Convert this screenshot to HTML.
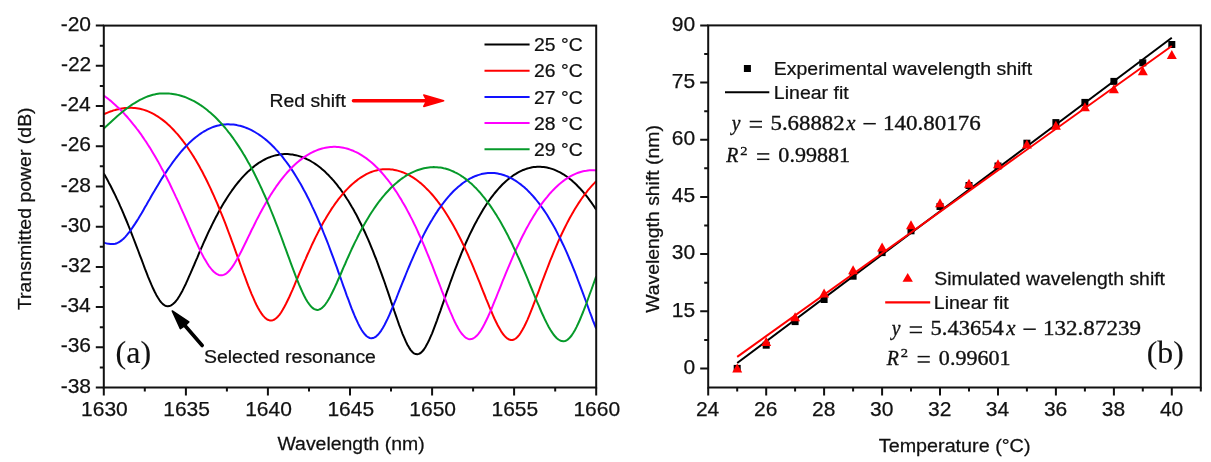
<!DOCTYPE html><html><head><meta charset="utf-8"><title>figure</title><style>html,body{margin:0;padding:0;background:#fff;overflow:hidden}svg{display:block;filter:blur(0.4px)}</style></head><body>
<svg width="1211" height="462" viewBox="0 0 1211 462">
<rect width="1211" height="462" fill="#fff"/>
<defs><clipPath id="cl"><rect x="103.8" y="25.6" width="492.4" height="361.9"/></clipPath></defs>
<g clip-path="url(#cl)" fill="none" stroke-width="2" stroke-linejoin="round">
<path d="M103.8,173.4 105.4,176.3 107.1,179.3 108.7,182.4 110.4,185.5 112.0,188.7 113.6,192.0 115.3,195.4 116.9,198.9 118.6,202.4 120.2,206.1 121.9,209.8 123.5,213.6 125.1,217.5 126.8,221.5 128.4,225.5 130.1,229.6 131.7,233.8 133.3,238.0 135.0,242.3 136.6,246.6 138.3,251.0 139.9,255.3 141.6,259.7 143.2,264.0 144.8,268.4 146.5,272.6 148.1,276.8 149.8,280.8 151.4,284.7 153.0,288.3 154.7,291.8 156.3,294.9 158.0,297.8 159.6,300.3 161.2,302.4 162.9,304.1 164.5,305.3 166.2,306.0 167.8,306.3 169.5,306.1 171.1,305.4 172.7,304.3 174.4,302.8 176.0,301.0 177.7,298.8 179.3,296.2 180.9,293.4 182.6,290.4 184.2,287.1 185.9,283.7 187.5,280.1 189.1,276.4 190.8,272.7 192.4,268.8 194.1,265.0 195.7,261.1 197.4,257.3 199.0,253.4 200.6,249.6 202.3,245.9 203.9,242.2 205.6,238.5 207.2,234.9 208.8,231.4 210.5,228.0 212.1,224.6 213.8,221.3 215.4,218.1 217.1,215.0 218.7,211.9 220.3,209.0 222.0,206.1 223.6,203.3 225.3,200.6 226.9,198.0 228.5,195.5 230.2,193.0 231.8,190.7 233.5,188.4 235.1,186.2 236.7,184.1 238.4,182.0 240.0,180.1 241.7,178.2 243.3,176.4 245.0,174.6 246.6,173.0 248.2,171.4 249.9,169.9 251.5,168.4 253.2,167.1 254.8,165.8 256.4,164.6 258.1,163.4 259.7,162.3 261.4,161.3 263.0,160.4 264.7,159.5 266.3,158.7 267.9,157.9 269.6,157.3 271.2,156.6 272.9,156.1 274.5,155.6 276.1,155.2 277.8,154.9 279.4,154.6 281.1,154.3 282.7,154.2 284.3,154.1 286.0,154.1 287.6,154.1 289.3,154.2 290.9,154.4 292.6,154.6 294.2,154.9 295.8,155.2 297.5,155.6 299.1,156.1 300.8,156.6 302.4,157.2 304.0,157.8 305.7,158.5 307.3,159.3 309.0,160.1 310.6,161.0 312.2,162.0 313.9,163.0 315.5,164.1 317.2,165.3 318.8,166.5 320.5,167.8 322.1,169.2 323.7,170.6 325.4,172.1 327.0,173.7 328.7,175.3 330.3,177.1 331.9,178.8 333.6,180.7 335.2,182.6 336.9,184.7 338.5,186.8 340.2,188.9 341.8,191.2 343.4,193.5 345.1,195.9 346.7,198.5 348.4,201.0 350.0,203.7 351.6,206.5 353.3,209.3 354.9,212.3 356.6,215.3 358.2,218.5 359.8,221.7 361.5,225.0 363.1,228.5 364.8,232.0 366.4,235.6 368.1,239.3 369.7,243.2 371.3,247.1 373.0,251.1 374.6,255.3 376.3,259.5 377.9,263.8 379.5,268.3 381.2,272.8 382.8,277.4 384.5,282.0 386.1,286.8 387.8,291.6 389.4,296.4 391.0,301.3 392.7,306.1 394.3,311.0 396.0,315.8 397.6,320.5 399.2,325.1 400.9,329.5 402.5,333.8 404.2,337.7 405.8,341.4 407.4,344.7 409.1,347.6 410.7,350.1 412.4,352.0 414.0,353.4 415.7,354.1 417.3,354.3 418.9,353.9 420.6,353.0 422.2,351.5 423.9,349.5 425.5,347.0 427.1,344.1 428.8,340.8 430.4,337.2 432.1,333.3 433.7,329.1 435.3,324.8 437.0,320.3 438.6,315.7 440.3,311.1 441.9,306.4 443.6,301.7 445.2,296.9 446.8,292.2 448.5,287.6 450.1,283.0 451.8,278.4 453.4,274.0 455.0,269.6 456.7,265.3 458.3,261.1 460.0,257.0 461.6,252.9 463.3,249.0 464.9,245.2 466.5,241.5 468.2,237.9 469.8,234.4 471.5,231.0 473.1,227.7 474.7,224.5 476.4,221.4 478.0,218.4 479.7,215.5 481.3,212.7 482.9,209.9 484.6,207.3 486.2,204.8 487.9,202.3 489.5,200.0 491.2,197.7 492.8,195.6 494.4,193.5 496.1,191.5 497.7,189.6 499.4,187.7 501.0,186.0 502.6,184.3 504.3,182.7 505.9,181.2 507.6,179.8 509.2,178.4 510.9,177.2 512.5,176.0 514.1,174.8 515.8,173.8 517.4,172.8 519.1,171.9 520.7,171.1 522.3,170.3 524.0,169.7 525.6,169.1 527.3,168.5 528.9,168.1 530.5,167.7 532.2,167.3 533.8,167.1 535.5,166.9 537.1,166.8 538.8,166.7 540.4,166.8 542.0,166.9 543.7,167.0 545.3,167.3 547.0,167.6 548.6,167.9 550.2,168.4 551.9,168.9 553.5,169.4 555.2,170.1 556.8,170.8 558.4,171.6 560.1,172.4 561.7,173.3 563.4,174.3 565.0,175.4 566.7,176.5 568.3,177.7 569.9,179.0 571.6,180.3 573.2,181.8 574.9,183.3 576.5,184.8 578.1,186.5 579.8,188.2 581.4,190.0 583.1,191.9 584.7,193.8 586.4,195.8 588.0,197.9 589.6,200.1 591.3,202.4 592.9,204.7 594.6,207.1 596.2,209.6" stroke="#000000"/>
<path d="M103.8,114.3 105.4,113.5 107.1,112.8 108.7,112.1 110.4,111.5 112.0,111.0 113.6,110.4 115.3,110.0 116.9,109.5 118.6,109.2 120.2,108.8 121.9,108.5 123.5,108.3 125.1,108.1 126.8,108.0 128.4,107.9 130.1,107.8 131.7,107.8 133.3,107.9 135.0,108.0 136.6,108.2 138.3,108.5 139.9,108.8 141.6,109.2 143.2,109.6 144.8,110.1 146.5,110.7 148.1,111.4 149.8,112.1 151.4,112.8 153.0,113.7 154.7,114.6 156.3,115.6 158.0,116.6 159.6,117.7 161.2,118.9 162.9,120.1 164.5,121.4 166.2,122.8 167.8,124.3 169.5,125.8 171.1,127.4 172.7,129.0 174.4,130.8 176.0,132.6 177.7,134.4 179.3,136.4 180.9,138.4 182.6,140.5 184.2,142.7 185.9,144.9 187.5,147.3 189.1,149.7 190.8,152.2 192.4,154.7 194.1,157.4 195.7,160.1 197.4,162.9 199.0,165.8 200.6,168.8 202.3,171.8 203.9,175.0 205.6,178.2 207.2,181.5 208.8,184.9 210.5,188.4 212.1,192.0 213.8,195.6 215.4,199.3 217.1,203.1 218.7,207.0 220.3,211.0 222.0,215.1 223.6,219.2 225.3,223.4 226.9,227.6 228.5,232.0 230.2,236.4 231.8,240.8 233.5,245.3 235.1,249.8 236.7,254.3 238.4,258.9 240.0,263.4 241.7,268.0 243.3,272.5 245.0,276.9 246.6,281.3 248.2,285.6 249.9,289.8 251.5,293.8 253.2,297.7 254.8,301.4 256.4,304.8 258.1,308.0 259.7,310.8 261.4,313.4 263.0,315.6 264.7,317.4 266.3,318.8 267.9,319.8 269.6,320.4 271.2,320.5 272.9,320.2 274.5,319.5 276.1,318.3 277.8,316.7 279.4,314.8 281.1,312.5 282.7,309.8 284.3,306.9 286.0,303.8 287.6,300.5 289.3,297.0 290.9,293.3 292.6,289.6 294.2,285.8 295.8,281.9 297.5,278.0 299.1,274.1 300.8,270.2 302.4,266.4 304.0,262.5 305.7,258.8 307.3,255.0 309.0,251.4 310.6,247.8 312.2,244.2 313.9,240.8 315.5,237.4 317.2,234.1 318.8,230.9 320.5,227.8 322.1,224.8 323.7,221.8 325.4,219.0 327.0,216.2 328.7,213.5 330.3,210.9 331.9,208.4 333.6,206.0 335.2,203.6 336.9,201.4 338.5,199.2 340.2,197.1 341.8,195.1 343.4,193.2 345.1,191.3 346.7,189.6 348.4,187.9 350.0,186.3 351.6,184.7 353.3,183.3 354.9,181.9 356.6,180.6 358.2,179.3 359.8,178.2 361.5,177.1 363.1,176.1 364.8,175.1 366.4,174.2 368.1,173.4 369.7,172.7 371.3,172.0 373.0,171.4 374.6,170.9 376.3,170.5 377.9,170.1 379.5,169.8 381.2,169.5 382.8,169.3 384.5,169.2 386.1,169.2 387.8,169.2 389.4,169.3 391.0,169.4 392.7,169.6 394.3,169.9 396.0,170.2 397.6,170.6 399.2,171.1 400.9,171.6 402.5,172.2 404.2,172.9 405.8,173.6 407.4,174.4 409.1,175.2 410.7,176.2 412.4,177.2 414.0,178.2 415.7,179.3 417.3,180.5 418.9,181.8 420.6,183.1 422.2,184.5 423.9,186.0 425.5,187.6 427.1,189.2 428.8,190.9 430.4,192.6 432.1,194.5 433.7,196.4 435.3,198.4 437.0,200.5 438.6,202.6 440.3,204.8 441.9,207.1 443.6,209.5 445.2,212.0 446.8,214.5 448.5,217.2 450.1,219.9 451.8,222.7 453.4,225.6 455.0,228.5 456.7,231.6 458.3,234.7 460.0,238.0 461.6,241.3 463.3,244.7 464.9,248.2 466.5,251.7 468.2,255.3 469.8,259.1 471.5,262.8 473.1,266.7 474.7,270.6 476.4,274.6 478.0,278.6 479.7,282.7 481.3,286.8 482.9,290.9 484.6,295.0 486.2,299.1 487.9,303.1 489.5,307.1 491.2,311.0 492.8,314.8 494.4,318.5 496.1,322.0 497.7,325.3 499.4,328.3 501.0,331.1 502.6,333.5 504.3,335.6 505.9,337.3 507.6,338.7 509.2,339.5 510.9,340.0 512.5,340.0 514.1,339.5 515.8,338.5 517.4,337.0 519.1,335.1 520.7,332.8 522.3,330.1 524.0,327.0 525.6,323.7 527.3,320.1 528.9,316.3 530.5,312.3 532.2,308.1 533.8,303.9 535.5,299.5 537.1,295.2 538.8,290.8 540.4,286.4 542.0,282.0 543.7,277.6 545.3,273.3 547.0,269.0 548.6,264.8 550.2,260.6 551.9,256.6 553.5,252.6 555.2,248.7 556.8,244.9 558.4,241.1 560.1,237.5 561.7,234.0 563.4,230.5 565.0,227.2 566.7,223.9 568.3,220.8 569.9,217.7 571.6,214.8 573.2,211.9 574.9,209.1 576.5,206.5 578.1,203.9 579.8,201.4 581.4,199.0 583.1,196.7 584.7,194.4 586.4,192.3 588.0,190.2 589.6,188.3 591.3,186.4 592.9,184.6 594.6,182.9 596.2,181.2" stroke="#ff0000"/>
<path d="M103.8,242.5 105.4,243.1 107.1,243.5 108.7,243.8 110.4,244.1 112.0,244.1 113.6,244.1 115.3,243.8 116.9,243.2 118.6,242.4 120.2,241.4 121.9,240.1 123.5,238.7 125.1,237.1 126.8,235.2 128.4,233.2 130.1,231.1 131.7,228.8 133.3,226.4 135.0,223.9 136.6,221.4 138.3,218.7 139.9,216.0 141.6,213.2 143.2,210.4 144.8,207.5 146.5,204.7 148.1,201.8 149.8,199.0 151.4,196.1 153.0,193.3 154.7,190.5 156.3,187.7 158.0,184.9 159.6,182.2 161.2,179.6 162.9,176.9 164.5,174.4 166.2,171.9 167.8,169.4 169.5,167.0 171.1,164.7 172.7,162.4 174.4,160.2 176.0,158.0 177.7,155.9 179.3,153.9 180.9,151.9 182.6,150.0 184.2,148.2 185.9,146.4 187.5,144.7 189.1,143.1 190.8,141.5 192.4,140.1 194.1,138.6 195.7,137.3 197.4,136.0 199.0,134.8 200.6,133.6 202.3,132.5 203.9,131.5 205.6,130.6 207.2,129.7 208.8,128.9 210.5,128.1 212.1,127.4 213.8,126.8 215.4,126.3 217.1,125.8 218.7,125.4 220.3,125.1 222.0,124.8 223.6,124.6 225.3,124.4 226.9,124.3 228.5,124.3 230.2,124.4 231.8,124.5 233.5,124.6 235.1,124.8 236.7,125.1 238.4,125.5 240.0,125.8 241.7,126.3 243.3,126.8 245.0,127.4 246.6,128.0 248.2,128.7 249.9,129.4 251.5,130.2 253.2,131.1 254.8,132.0 256.4,133.0 258.1,134.0 259.7,135.1 261.4,136.3 263.0,137.5 264.7,138.8 266.3,140.1 267.9,141.5 269.6,143.0 271.2,144.5 272.9,146.2 274.5,147.8 276.1,149.6 277.8,151.4 279.4,153.3 281.1,155.2 282.7,157.2 284.3,159.3 286.0,161.5 287.6,163.7 289.3,166.0 290.9,168.4 292.6,170.9 294.2,173.4 295.8,176.0 297.5,178.7 299.1,181.5 300.8,184.3 302.4,187.2 304.0,190.3 305.7,193.3 307.3,196.5 309.0,199.8 310.6,203.1 312.2,206.6 313.9,210.1 315.5,213.7 317.2,217.4 318.8,221.1 320.5,225.0 322.1,228.9 323.7,233.0 325.4,237.1 327.0,241.2 328.7,245.5 330.3,249.8 331.9,254.2 333.6,258.7 335.2,263.2 336.9,267.7 338.5,272.3 340.2,276.9 341.8,281.5 343.4,286.1 345.1,290.7 346.7,295.3 348.4,299.7 350.0,304.1 351.6,308.4 353.3,312.5 354.9,316.5 356.6,320.2 358.2,323.6 359.8,326.8 361.5,329.7 363.1,332.2 364.8,334.3 366.4,336.0 368.1,337.2 369.7,338.0 371.3,338.2 373.0,338.1 374.6,337.4 376.3,336.3 377.9,334.8 379.5,332.9 381.2,330.6 382.8,328.0 384.5,325.0 386.1,321.8 387.8,318.4 389.4,314.8 391.0,311.0 392.7,307.1 394.3,303.1 396.0,299.1 397.6,295.0 399.2,290.9 400.9,286.7 402.5,282.6 404.2,278.5 405.8,274.5 407.4,270.5 409.1,266.5 410.7,262.6 412.4,258.8 414.0,255.1 415.7,251.4 417.3,247.9 418.9,244.4 420.6,241.0 422.2,237.7 423.9,234.4 425.5,231.3 427.1,228.3 428.8,225.3 430.4,222.4 432.1,219.7 433.7,217.0 435.3,214.4 437.0,211.9 438.6,209.4 440.3,207.1 441.9,204.8 443.6,202.7 445.2,200.6 446.8,198.6 448.5,196.6 450.1,194.8 451.8,193.0 453.4,191.3 455.0,189.7 456.7,188.2 458.3,186.8 460.0,185.4 461.6,184.1 463.3,182.8 464.9,181.7 466.5,180.6 468.2,179.6 469.8,178.7 471.5,177.8 473.1,177.0 474.7,176.3 476.4,175.7 478.0,175.1 479.7,174.6 481.3,174.1 482.9,173.8 484.6,173.5 486.2,173.2 487.9,173.1 489.5,173.0 491.2,173.0 492.8,173.0 494.4,173.1 496.1,173.3 497.7,173.6 499.4,173.9 501.0,174.3 502.6,174.7 504.3,175.3 505.9,175.9 507.6,176.5 509.2,177.3 510.9,178.1 512.5,178.9 514.1,179.9 515.8,180.9 517.4,182.0 519.1,183.2 520.7,184.4 522.3,185.7 524.0,187.1 525.6,188.6 527.3,190.1 528.9,191.7 530.5,193.4 532.2,195.2 533.8,197.0 535.5,199.0 537.1,201.0 538.8,203.1 540.4,205.2 542.0,207.5 543.7,209.9 545.3,212.3 547.0,214.8 548.6,217.4 550.2,220.2 551.9,223.0 553.5,225.8 555.2,228.8 556.8,231.9 558.4,235.1 560.1,238.3 561.7,241.7 563.4,245.2 565.0,248.7 566.7,252.4 568.3,256.1 569.9,260.0 571.6,263.9 573.2,267.9 574.9,272.0 576.5,276.2 578.1,280.5 579.8,284.8 581.4,289.2 583.1,293.6 584.7,298.0 586.4,302.5 588.0,307.0 589.6,311.5 591.3,315.9 592.9,320.3 594.6,324.5 596.2,328.6" stroke="#1212ff"/>
<path d="M103.8,95.6 105.4,96.8 107.1,98.0 108.7,99.3 110.4,100.6 112.0,102.0 113.6,103.4 115.3,104.9 116.9,106.4 118.6,107.9 120.2,109.6 121.9,111.2 123.5,112.9 125.1,114.7 126.8,116.5 128.4,118.4 130.1,120.3 131.7,122.3 133.3,124.3 135.0,126.3 136.6,128.5 138.3,130.7 139.9,132.9 141.6,135.2 143.2,137.6 144.8,140.0 146.5,142.4 148.1,145.0 149.8,147.6 151.4,150.2 153.0,152.9 154.7,155.7 156.3,158.5 158.0,161.4 159.6,164.4 161.2,167.4 162.9,170.4 164.5,173.6 166.2,176.8 167.8,180.0 169.5,183.3 171.1,186.7 172.7,190.1 174.4,193.6 176.0,197.1 177.7,200.6 179.3,204.2 180.9,207.9 182.6,211.6 184.2,215.2 185.9,219.0 187.5,222.7 189.1,226.4 190.8,230.1 192.4,233.8 194.1,237.5 195.7,241.1 197.4,244.6 199.0,248.1 200.6,251.4 202.3,254.6 203.9,257.7 205.6,260.6 207.2,263.3 208.8,265.8 210.5,268.0 212.1,270.0 213.8,271.7 215.4,273.1 217.1,274.1 218.7,274.9 220.3,275.2 222.0,275.3 223.6,274.9 225.3,274.2 226.9,273.0 228.5,271.5 230.2,269.7 231.8,267.6 233.5,265.2 235.1,262.6 236.7,259.8 238.4,256.8 240.0,253.7 241.7,250.5 243.3,247.2 245.0,243.8 246.6,240.5 248.2,237.1 249.9,233.7 251.5,230.3 253.2,227.0 254.8,223.7 256.4,220.4 258.1,217.2 259.7,214.1 261.4,211.0 263.0,208.0 264.7,205.1 266.3,202.2 267.9,199.4 269.6,196.7 271.2,194.1 272.9,191.5 274.5,189.1 276.1,186.7 277.8,184.3 279.4,182.1 281.1,179.9 282.7,177.8 284.3,175.8 286.0,173.9 287.6,172.0 289.3,170.2 290.9,168.5 292.6,166.8 294.2,165.3 295.8,163.8 297.5,162.3 299.1,160.9 300.8,159.6 302.4,158.4 304.0,157.2 305.7,156.1 307.3,155.1 309.0,154.1 310.6,153.2 312.2,152.3 313.9,151.5 315.5,150.8 317.2,150.1 318.8,149.5 320.5,149.0 322.1,148.5 323.7,148.1 325.4,147.7 327.0,147.4 328.7,147.2 330.3,147.0 331.9,146.9 333.6,146.8 335.2,146.8 336.9,146.9 338.5,147.0 340.2,147.2 341.8,147.4 343.4,147.7 345.1,148.1 346.7,148.5 348.4,149.0 350.0,149.6 351.6,150.2 353.3,150.8 354.9,151.6 356.6,152.4 358.2,153.2 359.8,154.1 361.5,155.1 363.1,156.2 364.8,157.3 366.4,158.4 368.1,159.7 369.7,161.0 371.3,162.3 373.0,163.8 374.6,165.3 376.3,166.9 377.9,168.5 379.5,170.2 381.2,172.0 382.8,173.8 384.5,175.8 386.1,177.8 387.8,179.8 389.4,182.0 391.0,184.2 392.7,186.5 394.3,188.9 396.0,191.3 397.6,193.8 399.2,196.4 400.9,199.1 402.5,201.9 404.2,204.7 405.8,207.6 407.4,210.6 409.1,213.7 410.7,216.9 412.4,220.1 414.0,223.5 415.7,226.9 417.3,230.4 418.9,234.0 420.6,237.6 422.2,241.3 423.9,245.2 425.5,249.0 427.1,253.0 428.8,257.0 430.4,261.1 432.1,265.2 433.7,269.4 435.3,273.7 437.0,277.9 438.6,282.2 440.3,286.5 441.9,290.8 443.6,295.0 445.2,299.2 446.8,303.4 448.5,307.5 450.1,311.4 451.8,315.2 453.4,318.9 455.0,322.3 456.7,325.6 458.3,328.5 460.0,331.2 461.6,333.5 463.3,335.4 464.9,337.0 466.5,338.2 468.2,338.9 469.8,339.2 471.5,339.1 473.1,338.5 474.7,337.5 476.4,336.1 478.0,334.3 479.7,332.2 481.3,329.7 482.9,326.9 484.6,323.8 486.2,320.5 487.9,317.0 489.5,313.4 491.2,309.6 492.8,305.7 494.4,301.7 496.1,297.6 497.7,293.5 499.4,289.4 501.0,285.3 502.6,281.2 504.3,277.2 505.9,273.2 507.6,269.2 509.2,265.3 510.9,261.4 512.5,257.6 514.1,253.9 515.8,250.2 517.4,246.7 519.1,243.2 520.7,239.8 522.3,236.5 524.0,233.3 525.6,230.1 527.3,227.1 528.9,224.1 530.5,221.2 532.2,218.4 533.8,215.7 535.5,213.1 537.1,210.5 538.8,208.1 540.4,205.7 542.0,203.4 543.7,201.2 545.3,199.1 547.0,197.1 548.6,195.1 550.2,193.2 551.9,191.4 553.5,189.7 555.2,188.0 556.8,186.5 558.4,185.0 560.1,183.6 561.7,182.2 563.4,180.9 565.0,179.7 566.7,178.6 568.3,177.6 569.9,176.6 571.6,175.7 573.2,174.8 574.9,174.1 576.5,173.4 578.1,172.8 579.8,172.2 581.4,171.7 583.1,171.3 584.7,170.9 586.4,170.7 588.0,170.4 589.6,170.3 591.3,170.2 592.9,170.2 594.6,170.3 596.2,170.5" stroke="#ff00ff"/>
<path d="M103.8,128.5 105.4,127.0 107.1,125.5 108.7,124.0 110.4,122.4 112.0,120.9 113.6,119.4 115.3,117.9 116.9,116.5 118.6,115.1 120.2,113.7 121.9,112.3 123.5,111.0 125.1,109.7 126.8,108.4 128.4,107.2 130.1,106.0 131.7,104.9 133.3,103.8 135.0,102.8 136.6,101.8 138.3,100.8 139.9,99.9 141.6,99.1 143.2,98.3 144.8,97.6 146.5,96.9 148.1,96.3 149.8,95.8 151.4,95.3 153.0,94.8 154.7,94.4 156.3,94.1 158.0,93.8 159.6,93.6 161.2,93.5 162.9,93.4 164.5,93.4 166.2,93.4 167.8,93.4 169.5,93.6 171.1,93.7 172.7,93.9 174.4,94.2 176.0,94.5 177.7,94.9 179.3,95.3 180.9,95.7 182.6,96.3 184.2,96.8 185.9,97.4 187.5,98.1 189.1,98.8 190.8,99.6 192.4,100.4 194.1,101.2 195.7,102.1 197.4,103.1 199.0,104.1 200.6,105.2 202.3,106.3 203.9,107.5 205.6,108.8 207.2,110.0 208.8,111.4 210.5,112.8 212.1,114.2 213.8,115.8 215.4,117.3 217.1,119.0 218.7,120.7 220.3,122.4 222.0,124.2 223.6,126.1 225.3,128.0 226.9,130.0 228.5,132.1 230.2,134.2 231.8,136.4 233.5,138.7 235.1,141.0 236.7,143.4 238.4,145.9 240.0,148.4 241.7,151.0 243.3,153.7 245.0,156.4 246.6,159.3 248.2,162.2 249.9,165.1 251.5,168.2 253.2,171.3 254.8,174.5 256.4,177.8 258.1,181.2 259.7,184.6 261.4,188.2 263.0,191.8 264.7,195.5 266.3,199.2 267.9,203.1 269.6,207.0 271.2,211.0 272.9,215.1 274.5,219.2 276.1,223.4 277.8,227.7 279.4,232.1 281.1,236.5 282.7,240.9 284.3,245.4 286.0,249.8 287.6,254.3 289.3,258.8 290.9,263.3 292.6,267.8 294.2,272.1 295.8,276.4 297.5,280.6 299.1,284.6 300.8,288.5 302.4,292.1 304.0,295.5 305.7,298.7 307.3,301.5 309.0,303.9 310.6,306.0 312.2,307.6 313.9,308.9 315.5,309.6 317.2,309.9 318.8,309.7 320.5,309.0 322.1,307.9 323.7,306.3 325.4,304.3 327.0,302.0 328.7,299.3 330.3,296.4 331.9,293.2 333.6,289.8 335.2,286.3 336.9,282.7 338.5,279.0 340.2,275.3 341.8,271.5 343.4,267.7 345.1,264.0 346.7,260.2 348.4,256.5 350.0,252.9 351.6,249.3 353.3,245.8 354.9,242.4 356.6,239.1 358.2,235.8 359.8,232.6 361.5,229.5 363.1,226.5 364.8,223.6 366.4,220.7 368.1,217.9 369.7,215.3 371.3,212.7 373.0,210.2 374.6,207.8 376.3,205.4 377.9,203.2 379.5,201.0 381.2,198.9 382.8,196.8 384.5,194.9 386.1,193.0 387.8,191.2 389.4,189.5 391.0,187.8 392.7,186.2 394.3,184.7 396.0,183.3 397.6,181.9 399.2,180.6 400.9,179.3 402.5,178.1 404.2,177.0 405.8,175.9 407.4,174.9 409.1,174.0 410.7,173.1 412.4,172.3 414.0,171.6 415.7,170.9 417.3,170.3 418.9,169.7 420.6,169.2 422.2,168.7 423.9,168.3 425.5,168.0 427.1,167.7 428.8,167.5 430.4,167.3 432.1,167.2 433.7,167.1 435.3,167.2 437.0,167.2 438.6,167.4 440.3,167.6 441.9,167.8 443.6,168.2 445.2,168.5 446.8,169.0 448.5,169.5 450.1,170.1 451.8,170.8 453.4,171.5 455.0,172.3 456.7,173.1 458.3,174.0 460.0,175.0 461.6,176.1 463.3,177.2 464.9,178.4 466.5,179.6 468.2,181.0 469.8,182.4 471.5,183.8 473.1,185.4 474.7,187.0 476.4,188.6 478.0,190.4 479.7,192.2 481.3,194.1 482.9,196.1 484.6,198.1 486.2,200.3 487.9,202.5 489.5,204.7 491.2,207.1 492.8,209.5 494.4,212.0 496.1,214.6 497.7,217.3 499.4,220.0 501.0,222.8 502.6,225.7 504.3,228.7 505.9,231.8 507.6,234.9 509.2,238.2 510.9,241.5 512.5,244.8 514.1,248.3 515.8,251.8 517.4,255.4 519.1,259.0 520.7,262.7 522.3,266.5 524.0,270.4 525.6,274.2 527.3,278.1 528.9,282.1 530.5,286.0 532.2,290.0 533.8,294.0 535.5,298.0 537.1,301.9 538.8,305.7 540.4,309.5 542.0,313.3 543.7,316.8 545.3,320.3 547.0,323.6 548.6,326.7 550.2,329.5 551.9,332.1 553.5,334.5 555.2,336.5 556.8,338.2 558.4,339.5 560.1,340.5 561.7,341.1 563.4,341.3 565.0,341.0 566.7,340.3 568.3,339.1 569.9,337.5 571.6,335.5 573.2,333.0 574.9,330.2 576.5,327.1 578.1,323.7 579.8,320.0 581.4,316.1 583.1,312.0 584.7,307.8 586.4,303.5 588.0,299.0 589.6,294.5 591.3,290.0 592.9,285.5 594.6,280.9 596.2,276.4" stroke="#069a2a"/>
</g>
<g stroke="#111" stroke-width="2" fill="none">
<rect x="103.8" y="25.6" width="492.4" height="361.9"/>
<path d="M103.8,25.6H95.8M103.8,65.8H95.8M103.8,106.0H95.8M103.8,146.2H95.8M103.8,186.4H95.8M103.8,226.7H95.8M103.8,266.9H95.8M103.8,307.1H95.8M103.8,347.3H95.8M103.8,387.5H95.8M103.8,45.7H99.8M103.8,85.9H99.8M103.8,126.1H99.8M103.8,166.3H99.8M103.8,206.5H99.8M103.8,246.8H99.8M103.8,287.0H99.8M103.8,327.2H99.8M103.8,367.4H99.8M103.8,387.5V395.5M185.9,387.5V395.5M267.9,387.5V395.5M350.0,387.5V395.5M432.1,387.5V395.5M514.1,387.5V395.5M596.2,387.5V395.5M144.8,387.5V391.5M226.9,387.5V391.5M309.0,387.5V391.5M391.0,387.5V391.5M473.1,387.5V391.5M555.2,387.5V391.5"/>
<rect x="708.2" y="25.4" width="492.6" height="362.1"/>
<path d="M708.2,368.4H700.2M708.2,311.3H700.2M708.2,254.1H700.2M708.2,196.9H700.2M708.2,139.7H700.2M708.2,82.6H700.2M708.2,25.4H700.2M708.2,339.9H704.2M708.2,282.7H704.2M708.2,225.5H704.2M708.2,168.3H704.2M708.2,111.2H704.2M708.2,54.0H704.2M708.2,387.5V395.5M766.2,387.5V395.5M824.1,387.5V395.5M882.1,387.5V395.5M940.0,387.5V395.5M998.0,387.5V395.5M1055.9,387.5V395.5M1113.9,387.5V395.5M1171.8,387.5V395.5M737.2,387.5V391.5M795.1,387.5V391.5M853.1,387.5V391.5M911.0,387.5V391.5M969.0,387.5V391.5M1026.9,387.5V391.5M1084.9,387.5V391.5M1142.8,387.5V391.5M1200.8,387.5V391.5"/>
</g>
<line x1="484.5" y1="44.6" x2="529.6" y2="44.6" stroke="#000000" stroke-width="2"/>
<line x1="484.5" y1="70.8" x2="529.6" y2="70.8" stroke="#ff0000" stroke-width="2"/>
<line x1="484.5" y1="96.9" x2="529.6" y2="96.9" stroke="#1212ff" stroke-width="2"/>
<line x1="484.5" y1="123.0" x2="529.6" y2="123.0" stroke="#ff00ff" stroke-width="2"/>
<line x1="484.5" y1="149.2" x2="529.6" y2="149.2" stroke="#069a2a" stroke-width="2"/>
<line x1="353.5" y1="100.7" x2="426" y2="100.7" stroke="#ff0000" stroke-width="3.6" stroke-linecap="round"/>
<path d="M443.6,100.7 L423.8,95.0 L426.8,100.7 L423.8,106.4 Z" fill="#ff0000" stroke="#ff0000" stroke-width="1.6" stroke-linejoin="round"/>
<line x1="202.2" y1="345.5" x2="184" y2="324.5" stroke="#000" stroke-width="3.6" stroke-linecap="round"/>
<path d="M172.3,311.0 L188.8,322.0 L185.3,325.3 L180.4,328.6 Z" fill="#000" stroke="#000" stroke-width="1.6" stroke-linejoin="round"/>
<line x1="737.2" y1="363.0" x2="1171.8" y2="37.8" stroke="#000" stroke-width="2"/>
<rect x="733.7" y="364.9" width="7.0" height="7.0" fill="#000"/>
<rect x="762.7" y="341.7" width="7.0" height="7.0" fill="#000"/>
<rect x="791.6" y="318.1" width="7.0" height="7.0" fill="#000"/>
<rect x="820.6" y="296.0" width="7.0" height="7.0" fill="#000"/>
<rect x="849.6" y="272.7" width="7.0" height="7.0" fill="#000"/>
<rect x="878.6" y="249.1" width="7.0" height="7.0" fill="#000"/>
<rect x="907.5" y="227.3" width="7.0" height="7.0" fill="#000"/>
<rect x="936.5" y="203.0" width="7.0" height="7.0" fill="#000"/>
<rect x="965.5" y="182.0" width="7.0" height="7.0" fill="#000"/>
<rect x="994.5" y="162.5" width="7.0" height="7.0" fill="#000"/>
<rect x="1023.4" y="139.7" width="7.0" height="7.0" fill="#000"/>
<rect x="1052.4" y="119.1" width="7.0" height="7.0" fill="#000"/>
<rect x="1081.4" y="98.9" width="7.0" height="7.0" fill="#000"/>
<rect x="1110.4" y="77.9" width="7.0" height="7.0" fill="#000"/>
<rect x="1139.3" y="59.3" width="7.0" height="7.0" fill="#000"/>
<rect x="1168.3" y="41.0" width="7.0" height="7.0" fill="#000"/>
<path d="M737.2,363.6L742.2,372.6L732.2,372.6Z" fill="#ff0000"/>
<path d="M766.2,337.0L771.2,346.0L761.2,346.0Z" fill="#ff0000"/>
<path d="M795.1,312.2L800.1,321.2L790.1,321.2Z" fill="#ff0000"/>
<path d="M824.1,288.6L829.1,297.6L819.1,297.6Z" fill="#ff0000"/>
<path d="M853.1,265.3L858.1,274.3L848.1,274.3Z" fill="#ff0000"/>
<path d="M882.1,242.4L887.1,251.4L877.1,251.4Z" fill="#ff0000"/>
<path d="M911.0,220.3L916.0,229.3L906.0,229.3Z" fill="#ff0000"/>
<path d="M940.0,198.2L945.0,207.2L935.0,207.2Z" fill="#ff0000"/>
<path d="M969.0,178.8L974.0,187.8L964.0,187.8Z" fill="#ff0000"/>
<path d="M998.0,159.3L1003.0,168.3L993.0,168.3Z" fill="#ff0000"/>
<path d="M1026.9,139.5L1031.9,148.5L1021.9,148.5Z" fill="#ff0000"/>
<path d="M1055.9,120.8L1060.9,129.8L1050.9,129.8Z" fill="#ff0000"/>
<path d="M1084.9,102.2L1089.9,111.2L1079.9,111.2Z" fill="#ff0000"/>
<path d="M1113.9,84.3L1118.9,93.3L1108.9,93.3Z" fill="#ff0000"/>
<path d="M1142.8,66.3L1147.8,75.3L1137.8,75.3Z" fill="#ff0000"/>
<path d="M1171.8,49.9L1176.8,58.9L1166.8,58.9Z" fill="#ff0000"/>
<line x1="737.2" y1="356.9" x2="1171.8" y2="46.0" stroke="#ff0000" stroke-width="2"/>
<rect x="743.9" y="65.0" width="7.0" height="7.0" fill="#000"/>
<line x1="725.0" y1="92.2" x2="769.3" y2="92.2" stroke="#000" stroke-width="2.1"/>
<path d="M907.7,272.9L912.9,281.7L902.5,281.7Z" fill="#ff0000"/>
<line x1="885.2" y1="302.4" x2="930.2" y2="302.4" stroke="#ff0000" stroke-width="2.1"/>
<text font-family='"Liberation Sans", sans-serif' font-size="21" fill="#111" stroke="#111" stroke-width="0.25" x="60.70" y="30.80">-20</text>
<text font-family='"Liberation Sans", sans-serif' font-size="21" fill="#111" stroke="#111" stroke-width="0.25" x="60.95" y="71.01">-22</text>
<text font-family='"Liberation Sans", sans-serif' font-size="21" fill="#111" stroke="#111" stroke-width="0.25" x="60.45" y="111.22">-24</text>
<text font-family='"Liberation Sans", sans-serif' font-size="21" fill="#111" stroke="#111" stroke-width="0.25" x="60.70" y="151.43">-26</text>
<text font-family='"Liberation Sans", sans-serif' font-size="21" fill="#111" stroke="#111" stroke-width="0.25" x="60.70" y="191.64">-28</text>
<text font-family='"Liberation Sans", sans-serif' font-size="21" fill="#111" stroke="#111" stroke-width="0.25" x="60.70" y="231.86">-30</text>
<text font-family='"Liberation Sans", sans-serif' font-size="21" fill="#111" stroke="#111" stroke-width="0.25" x="60.95" y="272.07">-32</text>
<text font-family='"Liberation Sans", sans-serif' font-size="21" fill="#111" stroke="#111" stroke-width="0.25" x="60.45" y="312.28">-34</text>
<text font-family='"Liberation Sans", sans-serif' font-size="21" fill="#111" stroke="#111" stroke-width="0.25" x="60.70" y="352.49">-36</text>
<text font-family='"Liberation Sans", sans-serif' font-size="21" fill="#111" stroke="#111" stroke-width="0.25" x="60.70" y="392.70">-38</text>
<text font-family='"Liberation Sans", sans-serif' font-size="21" fill="#111" stroke="#111" stroke-width="0.25" x="81.05" y="416.00">1630</text>
<text font-family='"Liberation Sans", sans-serif' font-size="21" fill="#111" stroke="#111" stroke-width="0.25" x="163.24" y="416.00">1635</text>
<text font-family='"Liberation Sans", sans-serif' font-size="21" fill="#111" stroke="#111" stroke-width="0.25" x="245.18" y="416.00">1640</text>
<text font-family='"Liberation Sans", sans-serif' font-size="21" fill="#111" stroke="#111" stroke-width="0.25" x="327.38" y="416.00">1645</text>
<text font-family='"Liberation Sans", sans-serif' font-size="21" fill="#111" stroke="#111" stroke-width="0.25" x="409.32" y="416.00">1650</text>
<text font-family='"Liberation Sans", sans-serif' font-size="21" fill="#111" stroke="#111" stroke-width="0.25" x="491.51" y="416.00">1655</text>
<text font-family='"Liberation Sans", sans-serif' font-size="21" fill="#111" stroke="#111" stroke-width="0.25" x="573.45" y="416.00">1660</text>
<text font-family='"Liberation Sans", sans-serif' font-size="19" fill="#111" stroke="#111" stroke-width="0.25" transform="translate(31.00,310.11) rotate(-90) scale(1.0252,1)">Transmitted power (dB)</text>
<text font-family='"Liberation Sans", sans-serif' font-size="19" fill="#111" stroke="#111" stroke-width="0.25" transform="translate(277.44,450.00) scale(1.0239,1)">Wavelength (nm)</text>
<text font-family='"Liberation Sans", sans-serif' font-size="19" fill="#111" stroke="#111" stroke-width="0.25" transform="translate(534.08,51.20) scale(1.0174,1)">25 °C</text>
<text font-family='"Liberation Sans", sans-serif' font-size="19" fill="#111" stroke="#111" stroke-width="0.25" transform="translate(534.08,77.35) scale(1.0174,1)">26 °C</text>
<text font-family='"Liberation Sans", sans-serif' font-size="19" fill="#111" stroke="#111" stroke-width="0.25" transform="translate(534.08,103.50) scale(1.0174,1)">27 °C</text>
<text font-family='"Liberation Sans", sans-serif' font-size="19" fill="#111" stroke="#111" stroke-width="0.25" transform="translate(534.08,129.65) scale(1.0174,1)">28 °C</text>
<text font-family='"Liberation Sans", sans-serif' font-size="19" fill="#111" stroke="#111" stroke-width="0.25" transform="translate(534.08,155.80) scale(1.0174,1)">29 °C</text>
<text font-family='"Liberation Sans", sans-serif' font-size="19" fill="#111" stroke="#111" stroke-width="0.25" transform="translate(269.57,106.50) scale(1.0171,1)">Red shift</text>
<text font-family='"Liberation Sans", sans-serif' font-size="19" fill="#111" stroke="#111" stroke-width="0.25" transform="translate(203.98,363.20) scale(1.0247,1)">Selected resonance</text>
<text font-family='"Liberation Serif", serif' font-size="31" fill="#111" stroke="#111" stroke-width="0.1" transform="translate(115.51,363.20) scale(1.0331,1)">(a)</text>
<text font-family='"Liberation Sans", sans-serif' font-size="21" fill="#111" stroke="#111" stroke-width="0.25" x="683.55" y="373.84">0</text>
<text font-family='"Liberation Sans", sans-serif' font-size="21" fill="#111" stroke="#111" stroke-width="0.25" x="671.80" y="316.67">15</text>
<text font-family='"Liberation Sans", sans-serif' font-size="21" fill="#111" stroke="#111" stroke-width="0.25" x="671.80" y="259.49">30</text>
<text font-family='"Liberation Sans", sans-serif' font-size="21" fill="#111" stroke="#111" stroke-width="0.25" x="671.80" y="202.32">45</text>
<text font-family='"Liberation Sans", sans-serif' font-size="21" fill="#111" stroke="#111" stroke-width="0.25" x="671.80" y="145.15">60</text>
<text font-family='"Liberation Sans", sans-serif' font-size="21" fill="#111" stroke="#111" stroke-width="0.25" x="671.80" y="87.97">75</text>
<text font-family='"Liberation Sans", sans-serif' font-size="21" fill="#111" stroke="#111" stroke-width="0.25" x="671.80" y="30.80">90</text>
<text font-family='"Liberation Sans", sans-serif' font-size="21" fill="#111" stroke="#111" stroke-width="0.25" x="695.93" y="416.00">24</text>
<text font-family='"Liberation Sans", sans-serif' font-size="21" fill="#111" stroke="#111" stroke-width="0.25" x="754.00" y="416.00">26</text>
<text font-family='"Liberation Sans", sans-serif' font-size="21" fill="#111" stroke="#111" stroke-width="0.25" x="811.96" y="416.00">28</text>
<text font-family='"Liberation Sans", sans-serif' font-size="21" fill="#111" stroke="#111" stroke-width="0.25" x="870.03" y="416.00">30</text>
<text font-family='"Liberation Sans", sans-serif' font-size="21" fill="#111" stroke="#111" stroke-width="0.25" x="928.11" y="416.00">32</text>
<text font-family='"Liberation Sans", sans-serif' font-size="21" fill="#111" stroke="#111" stroke-width="0.25" x="985.81" y="416.00">34</text>
<text font-family='"Liberation Sans", sans-serif' font-size="21" fill="#111" stroke="#111" stroke-width="0.25" x="1043.89" y="416.00">36</text>
<text font-family='"Liberation Sans", sans-serif' font-size="21" fill="#111" stroke="#111" stroke-width="0.25" x="1101.85" y="416.00">38</text>
<text font-family='"Liberation Sans", sans-serif' font-size="21" fill="#111" stroke="#111" stroke-width="0.25" x="1159.92" y="416.00">40</text>
<text font-family='"Liberation Sans", sans-serif' font-size="19" fill="#111" stroke="#111" stroke-width="0.25" transform="translate(658.50,312.85) rotate(-90) scale(1.0200,1)">Wavelength shift (nm)</text>
<text font-family='"Liberation Sans", sans-serif' font-size="19" fill="#111" stroke="#111" stroke-width="0.25" transform="translate(878.78,452.00) scale(1.0399,1)">Temperature (°C)</text>
<text font-family='"Liberation Sans", sans-serif' font-size="19" fill="#111" stroke="#111" stroke-width="0.25" transform="translate(773.87,75.30) scale(1.0233,1)">Experimental wavelength shift</text>
<text font-family='"Liberation Sans", sans-serif' font-size="19" fill="#111" stroke="#111" stroke-width="0.25" transform="translate(773.86,99.00) scale(1.0274,1)">Linear fit</text>
<text font-family='"Liberation Sans", sans-serif' font-size="19" fill="#111" stroke="#111" stroke-width="0.25" transform="translate(934.28,285.30) scale(1.0218,1)">Simulated wavelength shift</text>
<text font-family='"Liberation Sans", sans-serif' font-size="19" fill="#111" stroke="#111" stroke-width="0.25" transform="translate(933.76,309.00) scale(1.0288,1)">Linear fit</text>
<text font-family='"Liberation Serif", serif' font-size="31" fill="#111" stroke="#111" stroke-width="0.1" transform="translate(1146.72,363.30) scale(1.0269,1)">(b)</text>
<text font-family='"Liberation Serif", serif' font-size="22" fill="#111" stroke="#111" stroke-width="0.35" font-style="italic" transform="translate(731.85,129.60) scale(0.8870,1)">y</text>
<text font-family='"Liberation Serif", serif' font-size="22" fill="#111" stroke="#111" stroke-width="0.35" transform="translate(770.50,129.60) scale(1.0377,1)">5.68882</text>
<text font-family='"Liberation Serif", serif' font-size="22" fill="#111" stroke="#111" stroke-width="0.35" font-style="italic" transform="translate(846.34,129.60) scale(0.9436,1)">x</text>
<text font-family='"Liberation Serif", serif' font-size="22" fill="#111" stroke="#111" stroke-width="0.35" transform="translate(883.01,129.60) scale(1.0457,1)">140.80176</text>
<text font-family='"Liberation Serif", serif' font-size="22" fill="#111" stroke="#111" stroke-width="0.35" font-style="italic" transform="translate(891.85,335.10) scale(0.8870,1)">y</text>
<text font-family='"Liberation Serif", serif' font-size="22" fill="#111" stroke="#111" stroke-width="0.35" transform="translate(930.52,335.10) scale(1.0229,1)">5.43654</text>
<text font-family='"Liberation Serif", serif' font-size="22" fill="#111" stroke="#111" stroke-width="0.35" font-style="italic" transform="translate(1006.34,335.10) scale(0.9436,1)">x</text>
<text font-family='"Liberation Serif", serif' font-size="22" fill="#111" stroke="#111" stroke-width="0.35" transform="translate(1043.00,335.10) scale(1.0486,1)">132.87239</text>
<text font-family='"Liberation Serif", serif' font-size="22" fill="#111" stroke="#111" stroke-width="0.35" font-style="italic" transform="translate(726.30,161.80) scale(0.9000,1)">R</text>
<text font-family='"Liberation Serif", serif' font-size="13.5" fill="#111" stroke="#111" stroke-width="0.35" transform="translate(740.36,154.60) scale(1.0727,1)">2</text>
<text font-family='"Liberation Serif", serif' font-size="22" fill="#111" stroke="#111" stroke-width="0.35" transform="translate(778.35,161.80) scale(1.0043,1)">0.99881</text>
<text font-family='"Liberation Serif", serif' font-size="22" fill="#111" stroke="#111" stroke-width="0.35" font-style="italic" transform="translate(886.80,364.50) scale(0.9000,1)">R</text>
<text font-family='"Liberation Serif", serif' font-size="13.5" fill="#111" stroke="#111" stroke-width="0.35" transform="translate(900.86,357.30) scale(1.0727,1)">2</text>
<text font-family='"Liberation Serif", serif' font-size="22" fill="#111" stroke="#111" stroke-width="0.35" transform="translate(938.85,364.50) scale(1.0043,1)">0.99601</text>
<rect x="749.70" y="120.75" width="12.30" height="1.5" fill="#111"/>
<rect x="749.70" y="126.25" width="12.30" height="1.5" fill="#111"/>
<rect x="863.40" y="122.95" width="12.40" height="1.5" fill="#111"/>
<rect x="909.70" y="326.25" width="12.30" height="1.5" fill="#111"/>
<rect x="909.70" y="331.75" width="12.30" height="1.5" fill="#111"/>
<rect x="1023.40" y="328.45" width="12.40" height="1.5" fill="#111"/>
<rect x="757.10" y="153.15" width="12.20" height="1.5" fill="#111"/>
<rect x="757.10" y="158.55" width="12.20" height="1.5" fill="#111"/>
<rect x="917.60" y="355.85" width="12.20" height="1.5" fill="#111"/>
<rect x="917.60" y="361.25" width="12.20" height="1.5" fill="#111"/>
</svg></body></html>
